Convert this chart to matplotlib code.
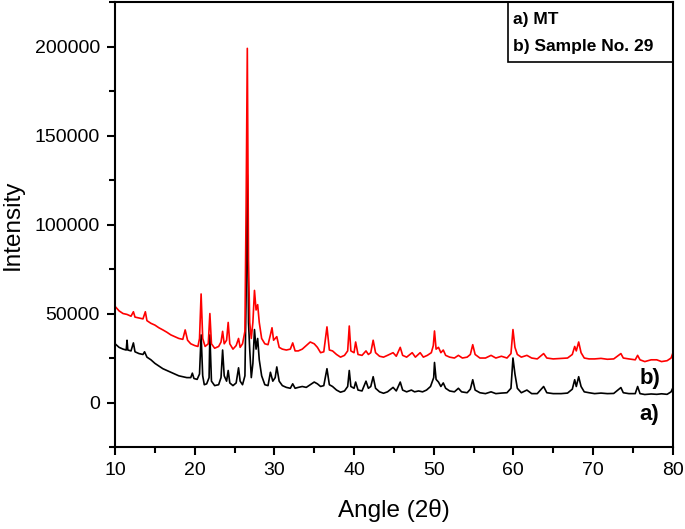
import matplotlib
matplotlib.use("Agg")
import matplotlib.pyplot as plt
from matplotlib.patches import Rectangle
from matplotlib.ticker import MultipleLocator

plt.rcParams['font.family'] = ['Liberation Sans', 'DejaVu Sans']

# a) MT  (black)
mt_x = [10.0, 10.5, 11.0, 11.4, 11.5, 11.6, 12.0, 12.3, 12.5, 13.0, 13.5, 13.7, 14.0, 14.5, 15.0,
        15.5, 16.0, 16.5, 17.0, 17.5, 18.0, 18.5, 19.0, 19.5, 19.7, 19.9, 20.3, 20.6, 20.8, 21.0,
        21.2, 21.5, 21.8, 21.9, 22.1, 22.5, 23.0, 23.3, 23.5, 23.7, 24.0, 24.2, 24.4, 24.8, 25.2,
        25.5, 25.7, 26.0, 26.3, 26.45, 26.6, 26.75, 26.9, 27.1, 27.3, 27.5, 27.7, 27.9, 28.1, 28.4,
        28.8, 29.2, 29.5, 29.8, 30.1, 30.3, 30.6, 31.0, 31.5, 32.0, 32.3, 32.6, 33.0, 33.5, 34.0,
        34.5, 35.0, 35.4, 35.8, 36.2, 36.6, 36.9, 37.3, 37.8, 38.3, 38.8, 39.2, 39.4, 39.6, 40.0,
        40.2, 40.5, 41.0, 41.5, 41.8, 42.1, 42.4, 42.7, 43.2, 43.7, 44.2, 44.9, 45.3, 45.8, 46.1,
        46.6, 47.2, 47.6, 48.1, 48.6, 49.1, 49.6, 50.0, 50.1, 50.3, 50.6, 50.9, 51.2, 51.5, 52.0,
        52.6, 53.1, 53.5, 54.2, 54.6, 54.9, 55.2, 55.8, 56.5, 57.2, 57.8, 58.5, 59.2, 59.7, 59.95,
        60.2, 60.5, 61.0, 61.7, 62.3, 63.0, 63.8, 64.2, 65.0, 66.0, 66.8, 67.4, 67.7, 67.9, 68.2,
        68.5, 68.9, 69.5, 70.2, 71.0, 71.8, 72.6, 73.5, 73.8, 74.5, 75.3, 75.6, 75.9, 76.5, 77.3,
        78.0, 78.6, 79.3, 79.8, 80.0]
mt_y = [33000, 31000, 30000, 29500, 35000, 29500, 29000, 33500, 28500, 27500, 27000, 28500, 25500, 24000, 22000,
        20500, 19000, 18000, 17000, 16000, 15000, 14500, 14000, 14000, 16500, 13500, 13000, 16000, 38000, 15000,
        10000, 10500, 14000, 38000, 12000, 9500, 10000, 14000, 29500, 15000, 12000, 18000, 11000, 9500, 11000,
        19500, 12000, 10000, 15000, 60000, 128000, 45000, 30000, 14000, 22000, 41000, 30000, 36000, 24000, 15000,
        10000, 9500, 17000, 12000, 14000, 20000, 12000, 9500, 8500, 8000, 10500, 8000, 8500, 9000, 8500,
        10000, 11500, 10500, 9000, 9500, 19000, 10000, 9000, 7000, 5800, 6500, 9000, 18000, 9000, 8000,
        11500, 7000, 6500, 12000, 8000, 9000, 14500, 8000, 6000, 5200, 6000, 8500, 6500, 11500, 7000,
        6000, 7000, 6000, 6500, 6000, 7000, 9000, 14000, 22500, 13000, 11500, 9000, 11000, 8000, 6500,
        6000, 8000, 6000, 5500, 7500, 12800, 7000, 5500, 5000, 6000, 5000, 5300, 5500, 8000, 25000,
        16000, 8000, 5500, 7000, 5000, 5000, 9000, 5500, 5000, 5000, 5300, 7500, 12800, 9000, 14500,
        9000, 6000, 5500, 5000, 5300, 5000, 5100, 8400, 5500, 5000, 5000, 9000, 5000, 4500, 4800,
        4600, 4900, 4600, 6000, 8000]

# b) Sample No. 29  (red)
s29_x = [10.0, 10.5, 11.0, 11.5, 12.0, 12.3, 12.5, 13.0, 13.5, 13.8, 14.0, 14.5, 15.0, 15.5, 16.0,
         16.5, 17.0, 17.5, 18.0, 18.5, 18.8, 19.1, 19.5, 20.0, 20.4, 20.6, 20.8, 21.0, 21.3, 21.7,
         21.9, 22.1, 22.5, 23.0, 23.3, 23.5, 23.7, 24.0, 24.2, 24.4, 24.8, 25.2, 25.5, 25.7, 26.0,
         26.3, 26.45, 26.6, 26.75, 26.9, 27.1, 27.3, 27.5, 27.7, 27.9, 28.1, 28.4, 28.8, 29.2, 29.5,
         29.7, 29.9, 30.3, 30.6, 31.0, 31.5, 32.0, 32.3, 32.6, 33.0, 33.5, 34.0, 34.5, 35.0, 35.4,
         35.8, 36.2, 36.6, 36.9, 37.3, 37.8, 38.3, 38.8, 39.2, 39.4, 39.6, 40.0, 40.2, 40.5, 41.0,
         41.5, 41.8, 42.1, 42.4, 42.7, 43.2, 43.7, 44.2, 44.9, 45.3, 45.8, 46.1, 46.6, 47.3, 47.7,
         48.3, 48.7, 49.2, 49.7, 49.95, 50.1, 50.3, 50.6, 50.9, 51.2, 51.5, 52.0, 52.6, 53.1, 53.6,
         54.2, 54.6, 54.9, 55.2, 55.8, 56.5, 57.2, 57.8, 58.5, 59.2, 59.7, 59.95, 60.2, 60.5, 61.0,
         61.7, 62.3, 63.0, 63.8, 64.2, 65.0, 66.0, 66.8, 67.4, 67.7, 67.9, 68.2, 68.5, 68.9, 69.5,
         70.2, 71.0, 71.8, 72.6, 73.5, 73.8, 74.5, 75.3, 75.6, 75.9, 76.5, 77.3, 78.0, 78.6, 79.3,
         79.8, 80.0]
s29_y = [54000, 51500, 50000, 49500, 48500, 51000, 48000, 47500, 47000, 51000, 46000, 44500, 43500, 42000, 40800,
         39500, 38000, 37000, 36000, 35500, 40800, 35000, 33000, 32000, 31500, 36000, 61000, 36000, 31500, 33000,
         50000, 33000, 30500, 31500, 34000, 40000, 33000, 35000, 45000, 33000, 30000, 32000, 36000, 31000, 33000,
         40000, 110000, 199000, 80000, 45000, 36000, 45000, 63000, 52000, 55000, 45000, 36000, 33000, 32500, 38000,
         42000, 35000, 37000, 31000, 30000, 29500, 30000, 33500, 29000, 29000, 30000, 32000, 34000, 33000, 31000,
         28000, 28500, 42500, 29500, 29000, 27000, 25500, 26500, 29000, 43000, 29000, 28000, 34000, 27000, 26500,
         29000, 27000, 28000, 35000, 28000, 26000, 25500, 26500, 28000, 26000, 31000, 26500, 25500, 28000, 25500,
         28000, 25500, 26500, 28000, 32000, 40200, 30000, 31000, 28000, 29500, 26500, 25500, 25000, 26500, 25000,
         25500, 27000, 32500, 27000, 25000, 25000, 26500, 25000, 26000, 25000, 27500, 41000, 31000, 27000, 25500,
         26500, 25000, 24500, 27500, 25000, 24500, 24800, 25000, 27000, 31500, 29000, 34000, 28000, 25000, 24500,
         24500, 24800, 24300, 24500, 27500, 25000, 24500, 24000, 26500, 24000, 23000, 24000, 24000, 23000, 23500,
         25000, 27500]

fig = plt.figure(figsize=(6.85, 5.29), dpi=100)
ax = fig.add_axes([0.168, 0.155, 0.814, 0.841])

ax.plot(mt_x, mt_y, color='black', lw=1.2)
ax.plot(s29_x, s29_y, color='red', lw=1.2)

ax.set_xlim(10, 80)
ax.set_ylim(-25000, 225000)
ax.xaxis.set_major_locator(MultipleLocator(10))
ax.xaxis.set_minor_locator(MultipleLocator(5))
ax.yaxis.set_major_locator(MultipleLocator(50000))
ax.yaxis.set_minor_locator(MultipleLocator(25000))
ax.tick_params(which='both', direction='out', top=False, right=False, width=1.5, labelsize=14)
ax.tick_params(which='major', length=6, pad=5)
ax.tick_params(which='minor', length=4)
for s in ax.spines.values():
    s.set_linewidth(1.5)

ax.set_xlabel('Angle (2\u03b8)', fontsize=17.5, labelpad=14)
ax.set_ylabel('Intensity', fontsize=17.5, labelpad=8)

ax.text(77.1, 13400, 'b)', fontsize=16, fontweight='bold', ha='center', va='center')
ax.text(77.1, -6700, 'a)', fontsize=16, fontweight='bold', ha='center', va='center')

ax.add_patch(Rectangle((0.704, 0.865), 0.296, 0.135, transform=ax.transAxes,
                       fill=False, lw=1.2, edgecolor='black', clip_on=False))
ax.text(0.713, 0.962, 'a) MT', transform=ax.transAxes, fontsize=12.5, fontweight='bold', va='center')
ax.text(0.713, 0.900, 'b) Sample No. 29', transform=ax.transAxes, fontsize=12.5, fontweight='bold', va='center')

fig.savefig('out.png', dpi=100)
